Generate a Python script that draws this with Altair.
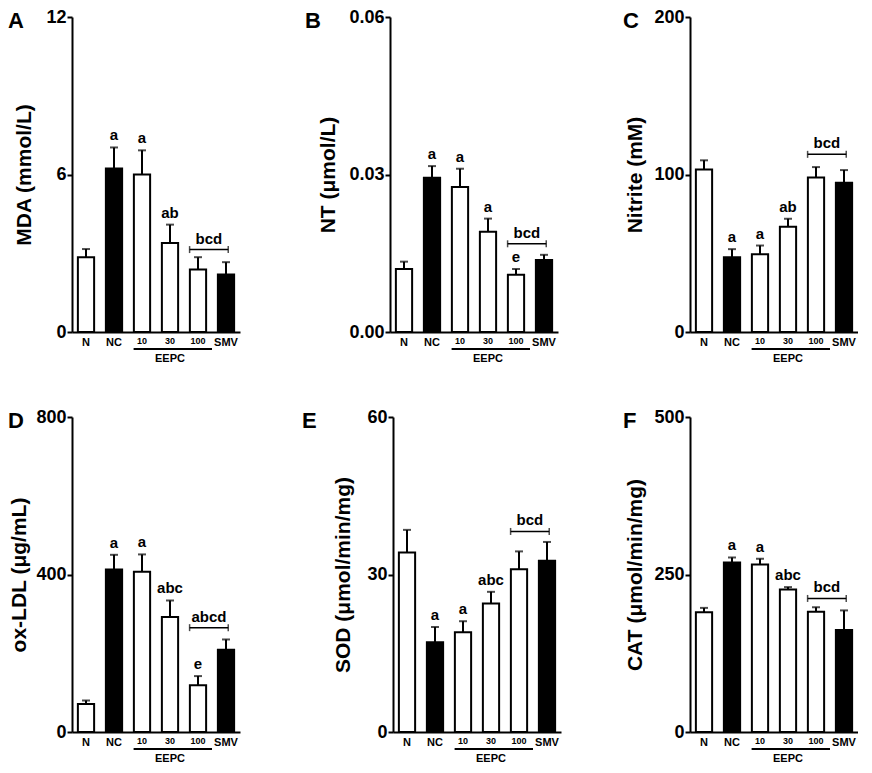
import altair as alt
import pandas as pd

F = "Liberation Sans"
groups = ["N", "NC", "10", "30", "100", "SMV"]
bar_fill = ["white", "black", "white", "white", "white", "black"]

mda_mean = [2.85, 6.23, 6.00, 3.39, 2.38, 2.19]
mda_sem = [0.31, 0.80, 0.92, 0.70, 0.47, 0.47]
mda_sig = ["", "a", "a", "ab", "", ""]

nt_mean = [0.0120, 0.0294, 0.0276, 0.0191, 0.0109, 0.0137]
nt_sem = [0.0014, 0.0022, 0.0035, 0.0025, 0.0011, 0.0010]
nt_sig = ["", "a", "a", "a", "e", ""]

nitrite_mean = [103.2, 47.5, 49.4, 66.8, 98.1, 94.7]
nitrite_sem = [5.8, 5.1, 5.5, 5.1, 6.6, 8.1]
nitrite_sig = ["", "a", "a", "ab", "", ""]

oxldl_mean = [71, 413, 407, 292, 119, 209]
oxldl_sem = [9, 37, 44, 42, 23, 26]
oxldl_sig = ["", "a", "a", "abc", "e", ""]

sod_mean = [34.2, 17.1, 19.0, 24.5, 31.0, 32.6]
sod_sem = [4.3, 2.9, 2.1, 2.2, 3.4, 3.6]
sod_sig = ["", "a", "a", "abc", "", ""]

cat_mean = [190, 269, 266, 226, 191, 162]
cat_sem = [7, 8, 9, 4, 7, 31]
cat_sig = ["", "a", "a", "abc", "", ""]

W, H = 168, 315


def panel(letter, letter_dx, title, means, sems, sig, bracket_y, bracket_text, ymax, fmt, tpad=11):
    df = pd.DataFrame({
        "group": groups,
        "mean": means,
        "top": [m + s for m, s in zip(means, sems)],
        "sig": sig,
        "fill": bar_fill,
    })
    xs = alt.Scale(domain=groups, paddingInner=0, paddingOuter=0)
    ys = alt.Scale(domain=[0, ymax], nice=False, zero=True)
    xaxis = alt.Axis(
        title=None, labelAngle=0, ticks=False, labelPadding=4, domainWidth=2,
        domainColor="black", labelFont=F, labelFontWeight="bold", labelColor="black",
        labelFontSize={"condition": {"test": "indexof(['N','NC','SMV'], datum.value) >= 0", "value": 11}, "value": 9},
    )
    yaxis = alt.Axis(
        title=title, values=[0, ymax / 2, ymax], format=fmt, grid=False,
        tickSize=5, tickWidth=2, tickColor="black", domainWidth=2, domainColor="black",
        labelFont=F, labelFontSize=18, labelFontWeight="bold", labelColor="black", labelPadding=1,
        titleFont=F, titleFontSize=21, titleFontWeight="bold", titleColor="black", titlePadding=tpad,
    )
    X0 = alt.X("group:N", scale=xs)

    bars = alt.Chart(df).mark_bar(width={"band": 0.58}, stroke="black", strokeWidth=2).encode(
        x=alt.X("group:N", scale=xs, axis=xaxis),
        y=alt.Y("mean:Q", scale=ys, axis=yaxis),
        fill=alt.Fill("fill:N", scale=None),
    )
    err = alt.Chart(df).mark_rule(color="black", strokeWidth=2).encode(
        x=X0, y=alt.Y("mean:Q"), y2="top:Q")
    caps = alt.Chart(df).mark_tick(orient="horizontal", size=8, thickness=2, color="black").encode(
        x=X0, y=alt.Y("top:Q"))
    sigtext = alt.Chart(df).transform_filter("datum.sig != ''").mark_text(
        baseline="bottom", dy=-4, font=F, fontWeight="bold", fontSize=15, color="black"
    ).encode(x=X0, y=alt.Y("top:Q"), text="sig:N")

    bdf = pd.DataFrame({"group": ["100"], "group2": ["SMV"], "y": [bracket_y], "text": [bracket_text]})
    brl = alt.Chart(bdf).mark_rule(color="black", strokeWidth=1.5).encode(
        x=alt.X("group:N", scale=xs, bandPosition=0.2),
        x2=alt.X2("group2:N", bandPosition=0.58),
        y=alt.Y("y:Q"))
    bre1 = alt.Chart(bdf).mark_tick(orient="vertical", size=7, thickness=1.5, color="black").encode(
        x=alt.X("group:N", scale=xs, bandPosition=0.2), y=alt.Y("y:Q"))
    bre2 = alt.Chart(bdf).mark_tick(orient="vertical", size=7, thickness=1.5, color="black").encode(
        x=alt.X("group2:N", scale=xs, bandPosition=0.58), y=alt.Y("y:Q"))
    brt = alt.Chart(bdf).mark_text(baseline="bottom", dy=-3, font=F, fontWeight="bold", fontSize=15, color="black").encode(
        x=alt.X("group:N", scale=xs, bandPosition=0.89), y=alt.Y("y:Q"), text="text:N")

    edf = pd.DataFrame({"group": ["10"], "group2": ["100"], "mid": ["30"], "text": ["EEPC"]})
    eline = alt.Chart(edf).mark_rule(color="black", strokeWidth=2).encode(
        x=alt.X("group:N", scale=xs, bandPosition=0.2),
        x2=alt.X2("group2:N", bandPosition=1.0),
        y=alt.value(H + 17))
    etext = alt.Chart(edf).mark_text(baseline="alphabetic", font=F, fontWeight="bold", fontSize=11, color="black").encode(
        x=alt.X("mid:N", scale=xs), y=alt.value(H + 30), text="text:N")

    ldf = pd.DataFrame({"t": [letter]})
    lt = alt.Chart(ldf).mark_text(align="left", baseline="middle", font=F, fontWeight="bold", fontSize=22, color="black").encode(
        x=alt.value(-letter_dx), y=alt.value(4), text="t:N")

    return alt.layer(bars, err, caps, sigtext, brl, bre1, bre2, brt, eline, etext, lt).properties(width=W, height=H)


pA = panel("A", 64, "MDA (mmol/L)", mda_mean, mda_sem, mda_sig, 3.14, "bcd", 12, "d", tpad=11)
pB = panel("B", 85, "NT (μmol/L)", nt_mean, nt_sem, nt_sig, 0.0168, "bcd", 0.06, ".2f", tpad=10)
pC = panel("C", 67, "Nitrite (mM)", nitrite_mean, nitrite_sem, nitrite_sig, 112.8, "bcd", 200, "d", tpad=8)
pD = panel("D", 64, "ox-LDL (μg/mL)", oxldl_mean, oxldl_sem, oxldl_sig, 265, "abcd", 800, "d", tpad=6)
pE = panel("E", 91, "SOD (μmol/min/mg)", sod_mean, sod_sem, sod_sig, 38.2, "bcd", 60, "d", tpad=13)
pF = panel("F", 67, "CAT (μmol/min/mg)", cat_mean, cat_sem, cat_sig, 212, "bcd", 500, "d", tpad=8)

row1 = alt.hconcat(pA, pB, pC, spacing=65)
row2 = alt.hconcat(pD, pE, pF, spacing=62)
chart = alt.vconcat(row1, row2, spacing=44).configure_view(stroke=None).properties(padding=0, background="white")

chart.save("out.html", embed_options={"renderer": "svg", "actions": False})
